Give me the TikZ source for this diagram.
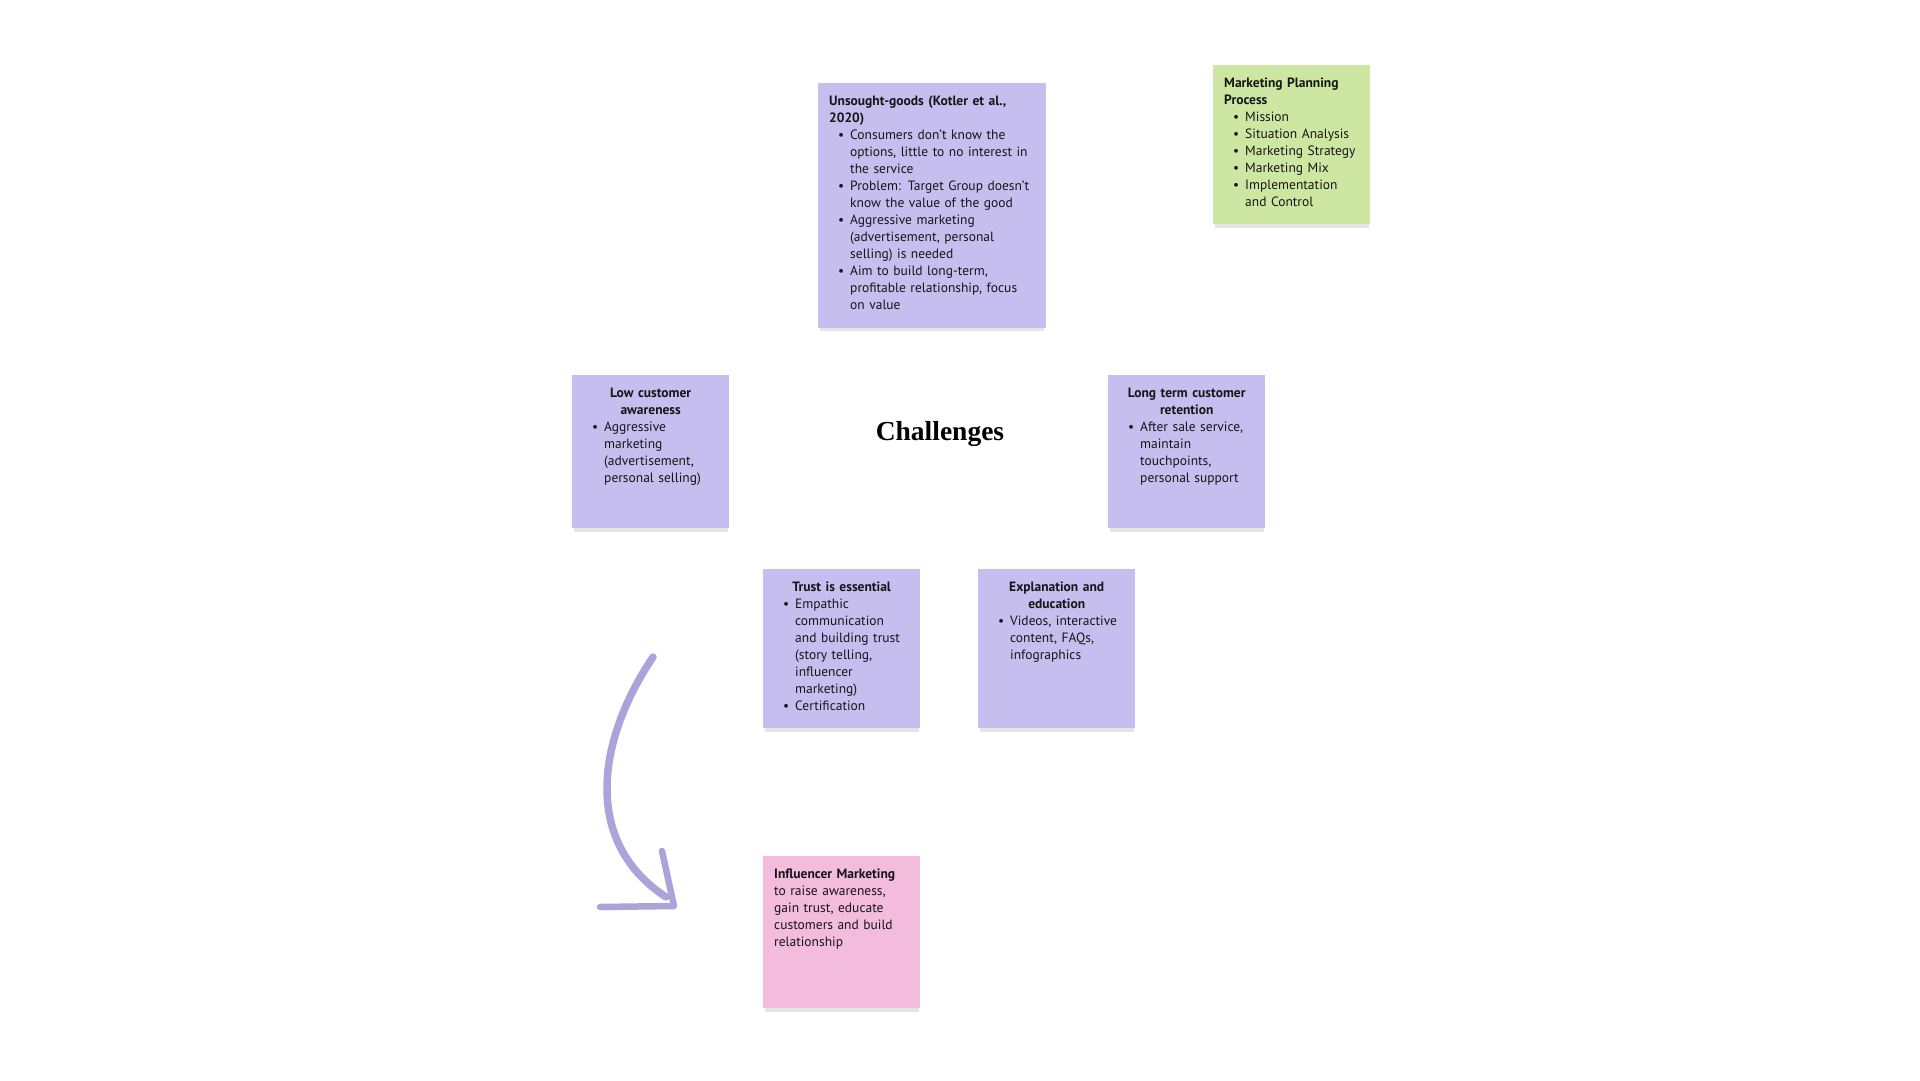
\documentclass[tikz,border=0pt]{standalone}
\usepackage{fontspec}
\setmainfont{PT Sans}
\newfontfamily\headfont{Liberation Serif}
\usepackage{enumitem}
\usetikzlibrary{shadows}
\definecolor{NoteClr}{RGB}{197,190,238}
\definecolor{PlanClr}{RGB}{205,231,163}
\definecolor{InflClr}{RGB}{243,187,220}
\definecolor{ArrowClr}{RGB}{172,163,219}
\definecolor{TxtClr}{RGB}{22,22,22}

\newlist{notelist}{itemize}{1}
\setlist[notelist]{label=\textbullet,leftmargin=21pt,labelsep=6pt,itemsep=0pt,topsep=0pt,parsep=0pt,partopsep=0pt}
\newcommand{\notetitle}[1]{\noindent\parbox[b]{135pt}{\centering\bfseries #1}\par}

\begin{document}
\begin{tikzpicture}[x=1pt,y=-1pt,
  note/.style={rectangle,anchor=north west,inner sep=0pt,minimum width=157pt,
    minimum height=153pt,fill=NoteClr,
    drop shadow={shadow xshift=0pt,shadow yshift=-5pt,shadow scale=.98,fill=black,opacity=.10}},
  notetext/.style={anchor=north west,inner xsep=11pt,inner ysep=12.5pt,text width=#1,
    align=left,text=TxtClr,font=\fontsize{13.5}{17}\selectfont},
  brush/.style={ArrowClr,line width=7.5pt,line cap=round,line join=round}]
\useasboundingbox (0,0) rectangle (1920,1080);

% sticky notes
\node[note,minimum width=228pt,minimum height=245pt] (unsought) at (818,83) {};
\node[note,fill=PlanClr,minimum height=159pt] (plan) at (1213,65) {};
\node[note] (low) at (572,375) {};
\node[note] (retention) at (1108,375) {};
\node[note,minimum height=159pt] (trust) at (763,569) {};
\node[note,minimum height=159pt] (explain) at (978,569) {};
\node[note,fill=InflClr,minimum height=152pt] (influencer) at (763,856) {};

\node[notetext=240pt] (unsoughtT) at (unsought.north west) {%
  \textbf{Unsought-goods (Kotler et al.,\\2020)}
  \begin{notelist}
  \item Consumers don’t know the\\options, little to no interest in\\the service
  \item Problem: Target Group doesn’t\\know the value of the good
  \item Aggressive marketing\\(advertisement, personal\\selling) is needed
  \item Aim to build long-term,\\profitable relationship, focus\\on value
  \end{notelist}};

\node[notetext=180pt] (planT) at (plan.north west) {%
  \textbf{Marketing Planning\\Process}
  \begin{notelist}
  \item Mission
  \item Situation Analysis
  \item Marketing Strategy
  \item Marketing Mix
  \item Implementation\\and Control
  \end{notelist}};

\node[notetext=180pt] (lowT) at (low.north west) {%
  \notetitle{Low customer\\awareness}
  \begin{notelist}
  \item Aggressive\\marketing\\(advertisement,\\personal selling)
  \end{notelist}};

\node[notetext=180pt] (retentionT) at (retention.north west) {%
  \notetitle{Long term customer\\retention}
  \begin{notelist}
  \item After sale service,\\maintain\\touchpoints,\\personal support
  \end{notelist}};

\node[notetext=180pt] (trustT) at (trust.north west) {%
  \notetitle{Trust is essential}
  \begin{notelist}
  \item Empathic\\communication\\and building trust\\(story telling,\\influencer\\marketing)
  \item Certification
  \end{notelist}};

\node[notetext=180pt] (explainT) at (explain.north west) {%
  \notetitle{Explanation and\\education}
  \begin{notelist}
  \item Videos, interactive\\content, FAQs,\\infographics
  \end{notelist}};

\node[notetext=180pt] (influencerT) at (influencer.north west) {%
  \textbf{Influencer Marketing}\\to raise awareness,\\gain trust, educate\\customers and build\\relationship};

% heading
\node[font=\headfont\bfseries\fontsize{27.5}{32}\selectfont,text=black] (challenges) at (940,434) {Challenges};

% hand drawn arrow
\coordinate (arrS) at (653,657);
\coordinate (arrE) at (666,897);
\coordinate (arrTip) at (674,906);
\coordinate (headA) at (662,851);
\coordinate (headB) at (600,907);
\draw[brush] (arrS) .. controls (597,740) and (582,842) .. (arrE);
\draw[brush,line width=6.5pt] (headA) -- (arrTip) -- (headB);
\end{tikzpicture}
\end{document}
